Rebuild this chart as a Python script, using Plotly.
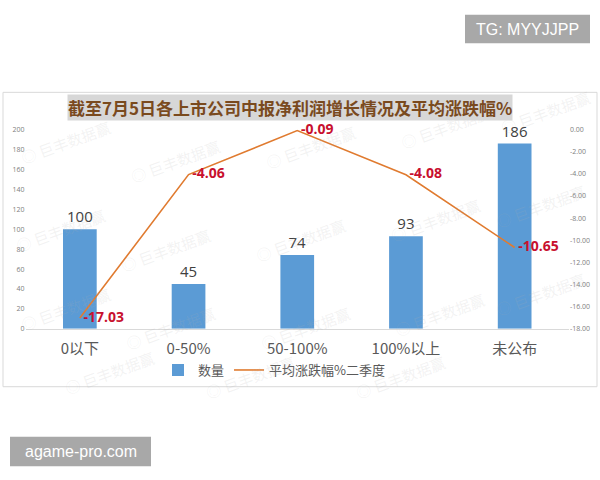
import plotly.graph_objects as go

categories = ["0以下", "0-50%", "50-100%", "100%以上", "未公布"]
counts = [100, 45, 74, 93, 186]
avg_change = [-17.03, -4.06, -0.09, -4.08, -10.65]
left_ticks = [0, 20, 40, 60, 80, 100, 120, 140, 160, 180, 200]
right_ticks = [0, -2, -4, -6, -8, -10, -12, -14, -16, -18]
title_text = "截至7月5日各上市公司中报净利润增长情况及平均涨跌幅%"
bar_name = "数量"
line_name = "平均涨跌幅%二季度"

W, H = 600, 480
def px(x):
    return x / W
def py(y):
    return 1 - y / H

CJK = "Noto Sans CJK SC, Noto Sans, sans-serif"
NUM = "Open Sans, Noto Sans, sans-serif"

fig = go.Figure()
fig.add_trace(go.Bar(
    x=categories, y=counts, name=bar_name,
    marker=dict(color="#5B9BD5", line=dict(width=0)),
    width=0.31,
    text=[str(v) for v in counts], textposition="outside",
    textfont=dict(size=15, color="#404040", family=NUM),
    cliponaxis=False,
))
fig.add_trace(go.Scatter(
    x=categories, y=avg_change, name=line_name, yaxis="y2",
    mode="lines+text",
    line=dict(color="#E07B30", width=1.6),
    text=["\u00a0" + f"{v:.2f}" for v in avg_change], textposition="middle right",
    textfont=dict(size=14, color="#C8102E", family="Open Sans, sans-serif", weight="bold"),
    cliponaxis=False,
))

# faint watermarks
wm = [(65, 140), (175, 160), (310, 145), (445, 125), (545, 110),
      (60, 230), (165, 250), (300, 240), (435, 220), (540, 205),
      (65, 310), (170, 330), (305, 330), (440, 315), (540, 295),
      (110, 375), (250, 380), (400, 380)]
annotations = []
for (wx, wy) in wm:
    annotations.append(dict(
        x=px(wx), y=py(wy), xref="paper", yref="paper", xanchor="center", yanchor="middle",
        text="◎ 巨丰数据赢",
        showarrow=False, textangle=-20,
        font=dict(size=15, color="rgba(175,175,175,0.16)", family=CJK)))

annotations.append(dict(
    x=px(290), y=py(104), xref="paper", yref="paper", xanchor="center", yanchor="middle",
    text=f"<b>{title_text}</b>",
    showarrow=False, bgcolor="#d7d7d7", borderpad=0,
    font=dict(size=17, color="#7a4a1e", family=CJK)))
annotations.append(dict(
    x=px(527.5), y=py(24.5), xref="paper", yref="paper", xanchor="center", yanchor="middle",
    text="TG: MYYJJPP",
    showarrow=False, font=dict(size=16, color="white", family="Liberation Sans, Arial, sans-serif")))
annotations.append(dict(
    x=px(80.5), y=py(455), xref="paper", yref="paper", xanchor="center", yanchor="middle",
    text="agame-pro.com",
    showarrow=False, font=dict(size=16, color="white", family="Liberation Sans, Arial, sans-serif")))

shapes = [
    dict(type="rect", xref="paper", yref="paper", x0=px(3), x1=px(597), y0=py(89), y1=py(389),
         line=dict(color="#d9d9d9", width=1), fillcolor="rgba(0,0,0,0)", layer="below"),
    dict(type="rect", xref="paper", yref="paper", x0=px(465), x1=px(590), y0=py(10), y1=py(39),
         line=dict(width=0), fillcolor="#a8a8a8", layer="below"),
    dict(type="rect", xref="paper", yref="paper", x0=px(10), x1=px(151), y0=py(440), y1=py(470),
         line=dict(width=0), fillcolor="#a8a8a8", layer="below"),
]

fig.update_layout(
    width=W, height=H,
    margin=dict(l=0, r=0, t=0, b=0),
    paper_bgcolor="white", plot_bgcolor="rgba(0,0,0,0)",
    showlegend=True,
    legend=dict(orientation="h", x=px(274), xanchor="center", y=py(372), yanchor="middle",
                font=dict(size=13, color="#595959", family=CJK), itemwidth=30,
                traceorder="normal"),
    xaxis=dict(domain=[px(25.5), px(569)], showgrid=False, showline=True,
               linecolor="#d9d9d9", linewidth=1, ticks="outside", ticklen=6,
               tickcolor="rgba(0,0,0,0)",
               tickfont=dict(size=15, color="#595959", family=CJK)),
    yaxis=dict(domain=[py(330), py(127)], range=[0, 200], tickvals=left_ticks,
               showgrid=False, zeroline=False, showline=False,
               tickfont=dict(size=7, color="#808080", family=NUM)),
    yaxis2=dict(overlaying="y", side="right", range=[-18, 0], tickvals=right_ticks,
                ticktext=[f"{v:.2f}" for v in right_ticks],
                showgrid=False, zeroline=False, showline=False,
                tickfont=dict(size=7, color="#808080", family=NUM)),
    annotations=annotations,
    shapes=shapes,
    bargap=0.69,
)

fig.write_html("out.html")
